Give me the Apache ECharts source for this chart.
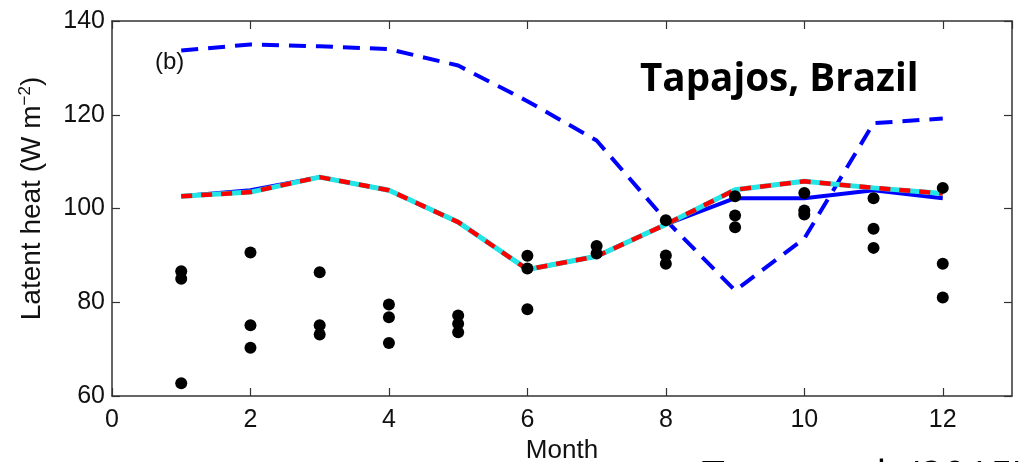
<!DOCTYPE html>
<html>
<head>
<meta charset="utf-8">
<script src="https://cdn.jsdelivr.net/npm/echarts@6/dist/echarts.min.js"></script>
<style>
html,body{margin:0;padding:0;background:#fff;}
#chart{width:1021px;height:462px;}
</style>
</head>
<body>
<div id="chart"></div>
<script>
var months = [1, 2, 3, 4, 5, 6, 7, 8, 9, 10, 11, 12];
var modelRedCyan = [102.6, 103.5, 106.7, 103.9, 97.1, 87.0, 89.8, 96.6, 104.0, 105.8, 104.4, 103.2];
var modelBlueSolid = [102.6, 103.9, 106.7, 103.9, 97.1, 87.0, 89.8, 96.6, 102.2, 102.2, 103.9, 102.2];
var modelBlueDashed = [133.7, 135.0, 134.6, 134.0, 130.5, 122.9, 114.5, 97.5, 82.5, 93.6, 118.2, 119.2];
var obsMonth = [1, 1, 1, 2, 2, 2, 3, 3, 3, 4, 4, 4, 5, 5, 5, 6, 6, 6, 7, 7, 8, 8, 8, 9, 9, 9, 10, 10, 10, 11, 11, 11, 12, 12, 12];
var obsValue = [86.6, 85.0, 62.7, 90.6, 75.1, 70.3, 86.4, 75.1, 73.1, 79.5, 76.8, 71.3, 77.2, 75.4, 73.6, 89.9, 87.2, 78.5, 92.0, 90.4, 97.5, 90.0, 88.2, 102.6, 98.5, 96.0, 103.3, 99.6, 98.7, 102.2, 95.7, 91.6, 104.4, 88.2, 81.0];
var xTicks = [0, 2, 4, 6, 8, 10, 12];
var yTicks = [60, 80, 100, 120, 140];
var panelLabel = '(b)';
var siteTitle = 'Tapajos, Brazil';
var citation = 'Tang et al. (2015)';

function pairs(xs, ys) { return xs.map(function (x, i) { return [x, ys[i]]; }); }

var chart = echarts.init(document.getElementById('chart'));
var axisColor = '#333';
var font = 'Liberation Sans';

var baseX = {
  type: 'value', min: 0, max: 13, interval: 2,
  axisLine: { show: true, onZero: false, lineStyle: { color: axisColor, width: 1.5 } },
  axisTick: { show: true, inside: true, length: 8, lineStyle: { color: axisColor, width: 1.2 } },
  splitLine: { show: false }
};
var baseY = {
  type: 'value', min: 60, max: 140, interval: 20,
  axisLine: { show: true, onZero: false, lineStyle: { color: axisColor, width: 1.5 } },
  axisTick: { show: true, inside: true, length: 8, lineStyle: { color: axisColor, width: 1.2 } },
  splitLine: { show: false }
};

var option = {
  backgroundColor: '#fff',
  animation: false,
  grid: { left: 112, right: 9, top: 21, bottom: 66, containLabel: false, outerBoundsMode: 'none' },
  xAxis: [
    Object.assign({}, baseX, {
      position: 'bottom',
      name: 'Month', nameLocation: 'middle', nameGap: 28,
      nameTextStyle: { fontFamily: font, fontSize: 26, color: '#111' },
      axisLabel: {
        show: true, margin: 12, fontFamily: font, fontSize: 25, color: '#111',
        showMaxLabel: false,
        formatter: function (v) { return xTicks.indexOf(v) >= 0 ? String(v) : ''; }
      }
    }),
    Object.assign({}, baseX, { position: 'top', axisLabel: { show: false } })
  ],
  yAxis: [
    Object.assign({}, baseY, {
      position: 'left',
      name: '{n|Latent heat (W m}{s|−2}{n|)}', nameLocation: 'middle', nameGap: 64, nameRotate: 90,
      nameTextStyle: {
        padding: [0, 0, 0, 20],
        rich: {
          n: { fontFamily: font, fontSize: 28, color: '#111' },
          s: { fontFamily: font, fontSize: 17, color: '#111', verticalAlign: 'top', padding: [0, 0, 14, 0] }
        }
      },
      axisLabel: {
        show: true, margin: 7, fontFamily: font, fontSize: 25, color: '#111',
        formatter: function (v) { return yTicks.indexOf(v) >= 0 ? String(v) : ''; }
      }
    }),
    Object.assign({}, baseY, { position: 'right', axisLabel: { show: false } })
  ],
  series: [
    {
      type: 'line', data: pairs(months, modelBlueDashed), symbol: 'none',
      lineStyle: { color: '#0000ff', width: 4, type: [17, 10] }, z: 2
    },
    {
      type: 'line', data: pairs(months, modelBlueSolid), symbol: 'none',
      lineStyle: { color: '#0000ff', width: 4 }, z: 3
    },
    {
      type: 'line', data: pairs(months, modelRedCyan), symbol: 'none',
      lineStyle: { color: '#22e6e6', width: 5 }, z: 4
    },
    {
      type: 'line', data: pairs(months, modelRedCyan), symbol: 'none',
      lineStyle: { color: '#ff0000', width: 4.5, type: [11, 9] }, z: 5
    },
    {
      type: 'scatter', data: pairs(obsMonth, obsValue), symbol: 'circle', symbolSize: 12,
      itemStyle: { color: '#000', opacity: 1 }, z: 6
    }
  ],
  graphic: [
    {
      type: 'text', left: 155, top: 50,
      style: { text: panelLabel, fontFamily: font, fontSize: 24, fill: '#111' }
    },
    {
      type: 'text', left: 640, top: 60, scaleX: 0.965,
      style: { text: siteTitle, fontFamily: 'Open Sans', fontWeight: 'bold', fontSize: 40, fill: '#000' }
    },
    {
      type: 'text', left: 702, top: 457, scaleX: 0.93,
      style: { text: citation, fontFamily: 'Open Sans', fontSize: 44, fill: '#000' }
    }
  ]
};
chart.setOption(option);
</script>
</body>
</html>
